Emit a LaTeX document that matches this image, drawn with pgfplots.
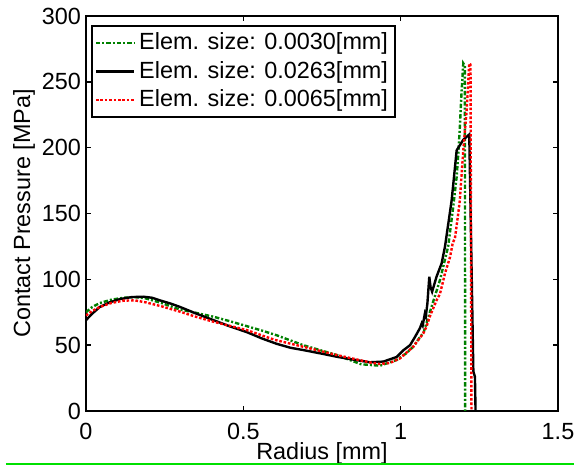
\documentclass[border=0pt]{standalone}
\usepackage{fontspec}
\setmainfont{Liberation Sans}
\usepackage{pgfplots}
\pgfplotsset{compat=1.18}
\definecolor{mgreen}{rgb}{0,0.5,0}
\definecolor{lgreen}{rgb}{0,0.88,0}
\begin{document}
\fontsize{11.7}{14}\selectfont
\begin{tikzpicture}
\begin{axis}[name=ax, scale only axis, width=236pt, height=197.5pt,
  xmin=0, xmax=1.5, ymin=0, ymax=300,
  xtick={0,0.5,1,1.5}, ytick={0,50,100,150,200,250,300},
  /pgf/number format/assume math mode=true,
  tick align=inside, major tick length=2.5pt,
  axis line style={line width=1pt},
  every tick/.style={black, line width=0.8pt},
  tick label style={font=\fontsize{11.7}{14}\selectfont},
  xticklabel style={yshift=-2pt},
  yticklabel style={xshift=1.5pt},
  label style={font=\fontsize{11.7}{14}\selectfont},
  xlabel={Radius [mm]}, ylabel={Contact Pressure [MPa]},
  xlabel style={at={(axis description cs:0.5,0)}, anchor=base, yshift=-24.5pt},
  ylabel style={at={(axis description cs:0,0.5)}, anchor=center, yshift=31pt},
  legend style={at={(0.0106,0.977)}, anchor=north west, draw=black, line width=0.8pt,
    font=\fontsize{11.7}{14}\selectfont, inner sep=1.5pt, row sep=0pt},
  legend cell align=left,
  legend image code/.code={\draw[#1] (0pt,0pt) -- (19pt,0pt);},
]
\addplot[mgreen, line width=1.2pt, dash pattern=on 2.2pt off 1pt on 1pt off 1pt] coordinates {
(0,75) (0.02,79) (0.044,82) (0.08,84.5) (0.119,86) (0.155,86.5) (0.19,85.5) (0.24,82)
(0.299,77) (0.35,74.5) (0.405,71.6) (0.46,68) (0.51,64.5) (0.56,61) (0.606,57.5)
(0.69,50) (0.797,42.5) (0.874,35.5) (0.934,34.4) (0.987,38.7) (1.019,44) (1.04,48.8)
(1.061,56) (1.072,59) (1.098,79) (1.125,99.5) (1.151,125) (1.167,155) (1.178,178)
(1.183,195) (1.188,215) (1.193,240) (1.199,264) (1.204,262) (1.205,0)
};
\addlegendentry{Elem. size: 0.0030[mm]}
\addplot[black, line width=1.2pt] coordinates {
(0,69) (0.02,74) (0.044,79) (0.075,82.5) (0.108,85) (0.145,86.5) (0.182,86.8) (0.21,86)
(0.235,84) (0.27,81.5) (0.299,79) (0.35,74) (0.405,69) (0.46,64) (0.51,60) (0.56,55)
(0.606,51) (0.65,48) (0.69,46.3) (0.75,43.5) (0.797,41.2) (0.85,39) (0.902,37)
(0.945,37.5) (0.987,41) (1.008,46) (1.03,50) (1.045,56) (1.061,62.8) (1.067,66.6)
(1.07,65) (1.077,74) (1.08,72) (1.085,81.8) (1.088,92) (1.091,102) (1.095,94)
(1.1,90.6) (1.114,102) (1.13,112) (1.141,125) (1.162,160) (1.178,198) (1.199,206)
(1.218,210) (1.231,30) (1.236,26) (1.238,0)
};
\addlegendentry{Elem. size: 0.0263[mm]}
\addplot[red, line width=1.2pt, dash pattern=on 1.3pt off 0.9pt] coordinates {
(0,72.5) (0.02,76) (0.044,79) (0.08,82) (0.119,83.8) (0.155,84) (0.19,82.5) (0.24,79.5)
(0.299,75.4) (0.35,71.5) (0.405,67.8) (0.46,64.5) (0.51,61.5) (0.6,54) (0.69,48.8)
(0.797,42.5) (0.906,36.7) (0.934,35.7) (0.966,36.5) (0.998,40) (1.04,48.8) (1.072,59)
(1.082,64) (1.093,72) (1.114,84) (1.125,89) (1.141,104.6) (1.157,117) (1.165,127)
(1.173,132) (1.183,150) (1.188,160) (1.199,198) (1.21,229) (1.218,264) (1.222,263)
(1.225,0)
};
\addlegendentry{Elem. size: 0.0065[mm]}
\end{axis}
\draw[lgreen, line width=1pt] ([xshift=-40pt, yshift=-26.5pt]ax.south west) -- ([xshift=8pt, yshift=-26.5pt]ax.south east);
\pgfresetboundingbox
\path ([xshift=-43pt, yshift=-28.5pt]ax.south west) rectangle ([xshift=8pt, yshift=8pt]ax.north east);
\end{tikzpicture}
\end{document}
